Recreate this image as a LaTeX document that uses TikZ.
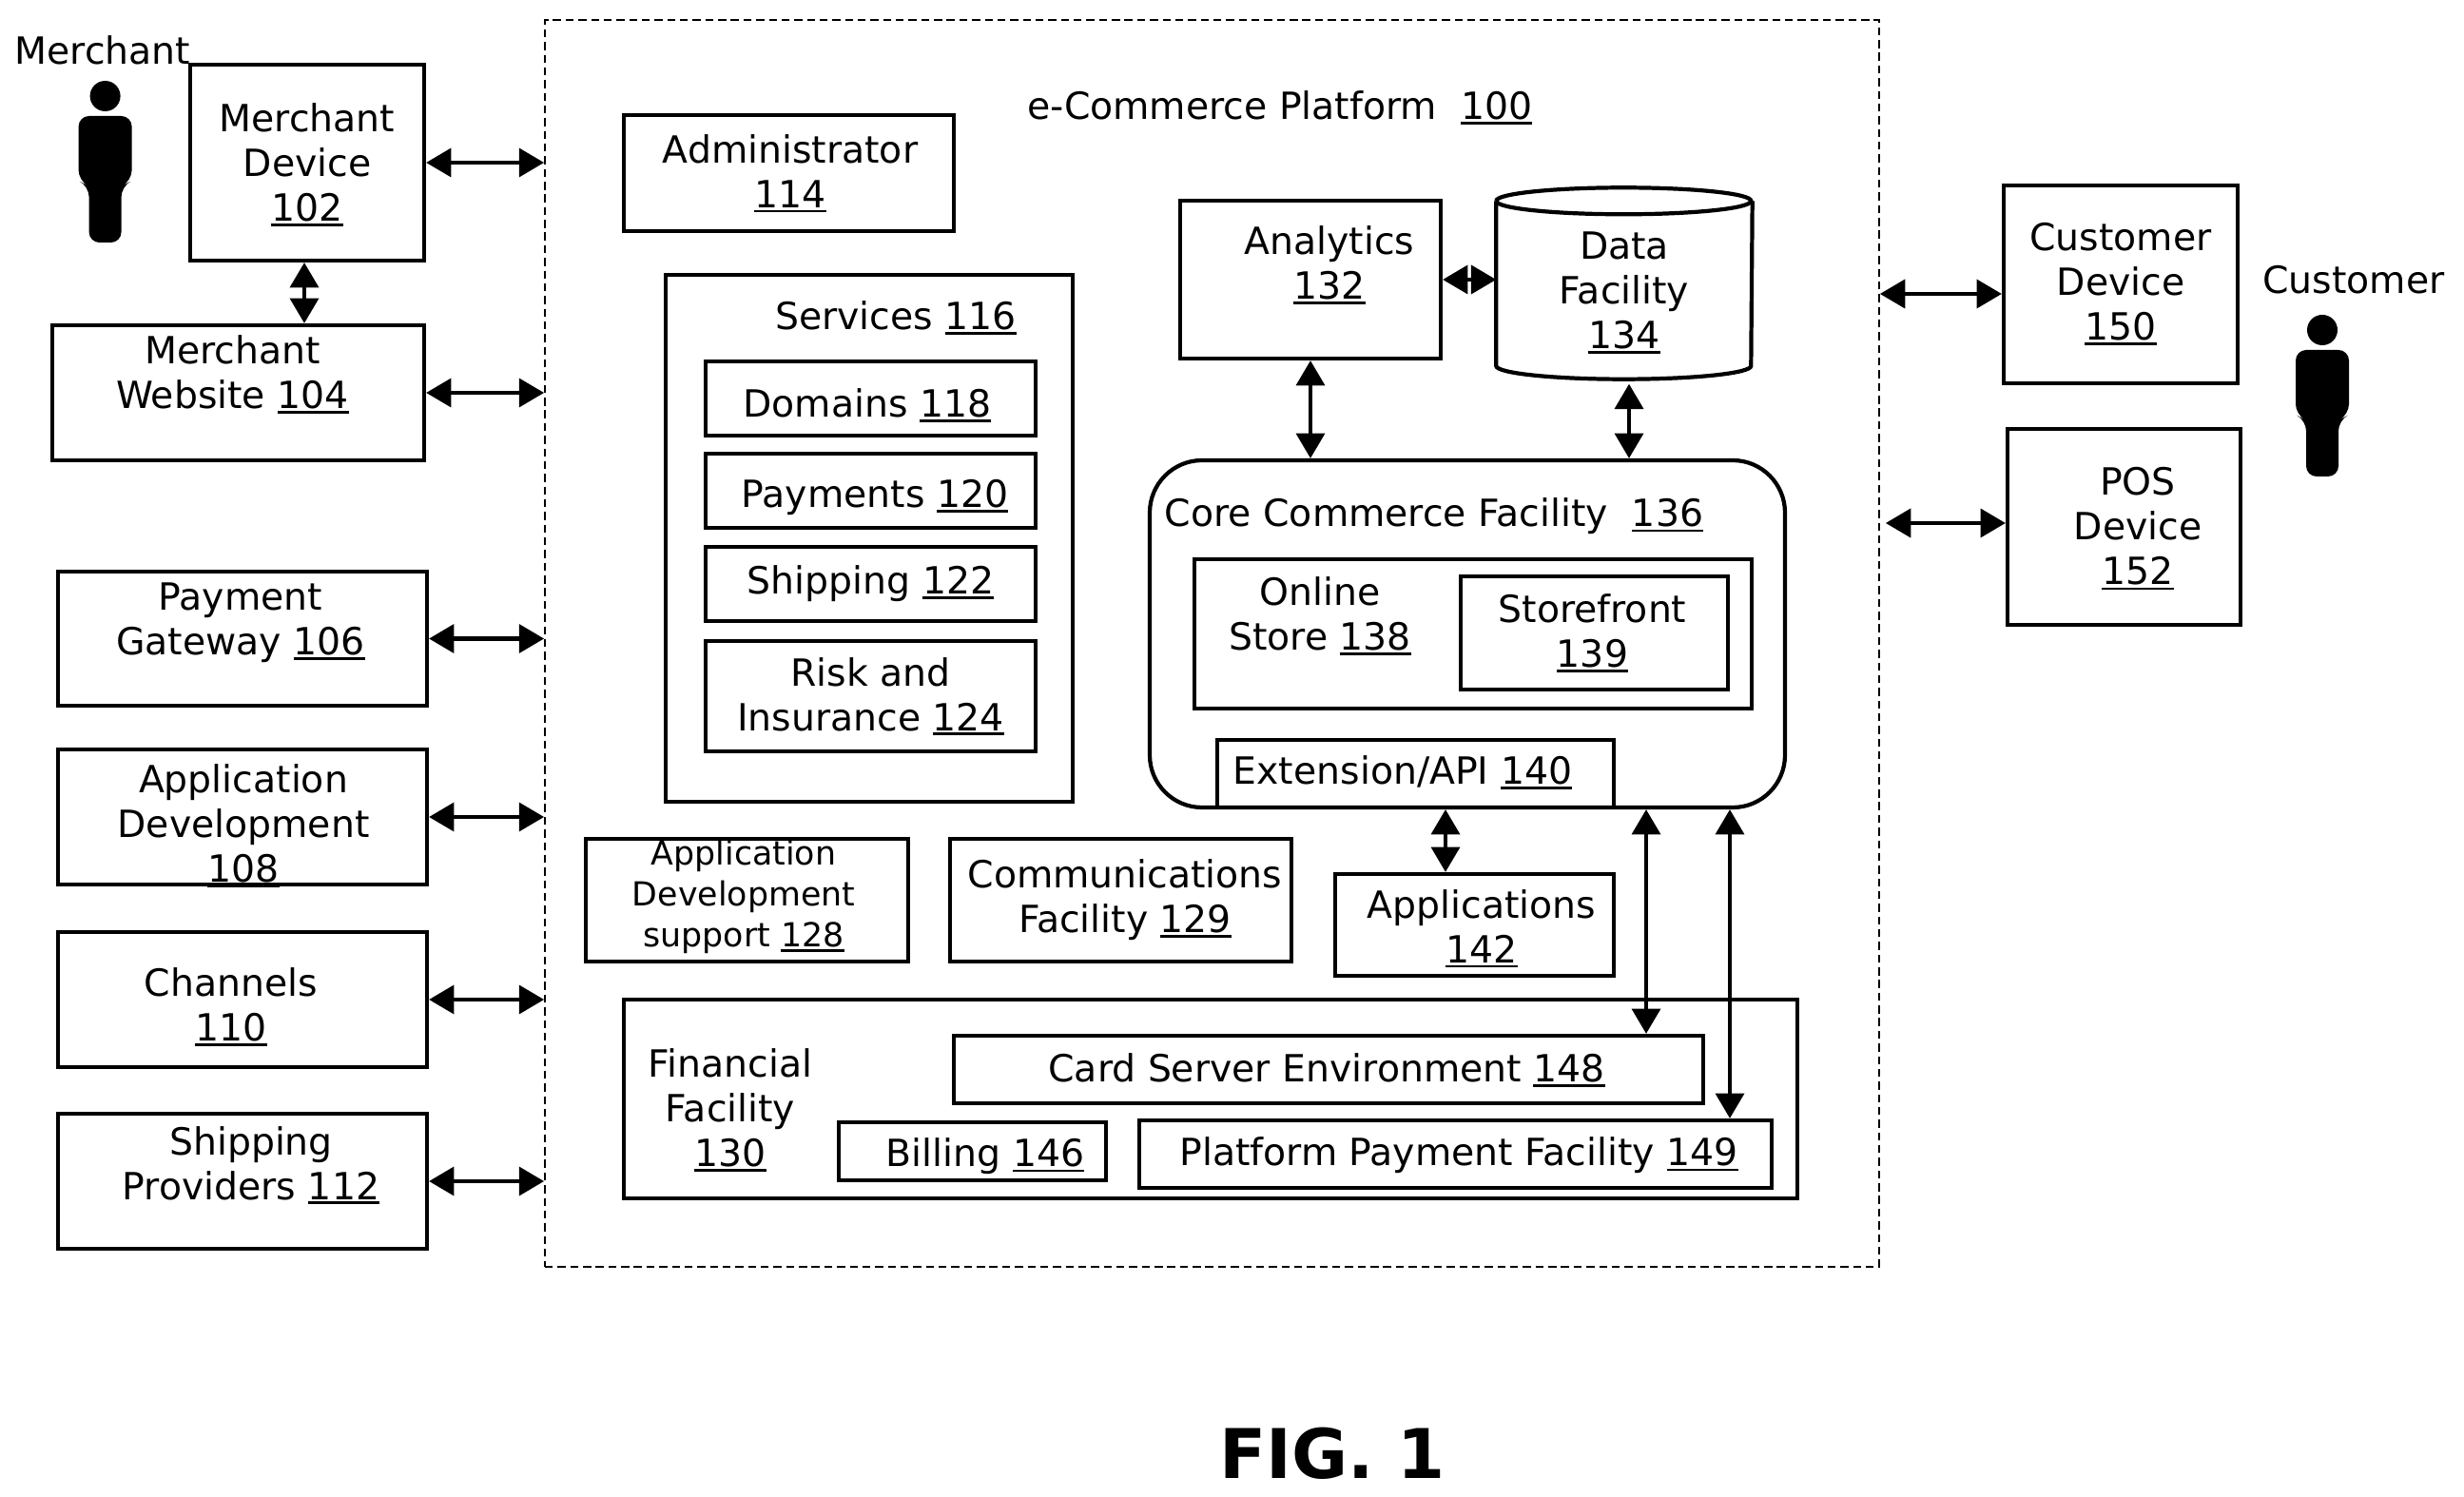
\documentclass[tikz,border=0pt]{standalone}
\usepackage{fontspec}
\setmainfont{DejaVu Sans}
\usetikzlibrary{arrows.meta}
\tikzset{blockbox/.style={rectangle, draw, line width=1.2pt, inner sep=0pt, align=center, font=\blockfont}}
\tikzset{blocktext/.style={inner sep=0pt, align=center, font=\blockfont}}
\tikzset{biarrow/.style={{Triangle[length=7.5pt,width=8.5pt]}-{Triangle[length=7.5pt,width=8.5pt]}, line width=1.2pt}}
\newcommand{\blockfont}{\fontsize{11.2}{13.4}\selectfont}
\newcommand{\refnum}[1]{\vtop{\hbox{#1}\kern.6pt\hrule height .8pt\kern-1.4pt}}
\newcommand{\person}[2]{
\fill[black, shift={(#1,#2)}] (0,0) circle (.16);
\fill[black, shift={(#1,#2)}, rounded corners=.11cm] (-.28,-.21) -- (.28,-.21) -- (.28,-.89) -- (.17,-.95) -- (.17,-1.54) -- (-.17,-1.54) -- (-.17,-.95) -- (-.28,-.89) -- cycle;
}

\begin{document}
\begin{tikzpicture}[
]
\useasboundingbox (0,0) rectangle (25.91,-15.74);

\node [blocktext] (merchant) at (1.08,-.53) {Merchant};
\person{1.106}{-1.01}
\node [blocktext] (customer) at (24.75,-2.94) {Customer};
\person{24.42}{-3.47}

\node [blockbox, minimum width = 2.46cm, minimum height = 2.06cm] (device) at (3.23,-1.71) {Merchant\\Device\\\refnum{102}};
\node [blockbox, minimum width = 3.91cm, minimum height = 1.42cm] (website) at (2.505,-4.13) {};
\node [blocktext] (websiteT) at (2.445,-3.915) {Merchant\\Website \refnum{104}};
\node [blockbox, minimum width = 3.88cm, minimum height = 1.41cm] (gateway) at (2.55,-6.715) {};
\node [blocktext] (gatewayT) at (2.53,-6.55) {Payment\\Gateway \refnum{106}};
\node [blockbox, minimum width = 3.88cm, minimum height = 1.42cm] (appdev) at (2.55,-8.59) {};
\node [blocktext] (appdevT) at (2.56,-8.66) {Application\\Development\\\refnum{108}};
\node [blockbox, minimum width = 3.88cm, minimum height = 1.42cm] (channels) at (2.55,-10.51) {};
\node [blocktext] (channelsT) at (2.43,-10.56) {Channels\\\refnum{110}};
\node [blockbox, minimum width = 3.88cm, minimum height = 1.42cm] (shipprov) at (2.55,-12.42) {};
\node [blocktext] (shipprovT) at (2.64,-12.23) {Shipping\\Providers \refnum{112}};

\node [draw, rectangle, line width=.5pt, dash pattern=on 2.4pt off 1.4pt, minimum width = 14.03cm, minimum height = 13.11cm] (platform) at (12.745,-6.765) {};
\node [blocktext] (platformT) at (13.46,-1.105) {e-Commerce Platform~~\refnum{100}};

\node [blockbox, minimum width = 3.47cm, minimum height = 1.22cm] (admin) at (8.295,-1.82) {};
\node [blocktext] (adminT) at (8.31,-1.80) {Administrator\\\refnum{114}};

\node [blockbox, minimum width = 4.28cm, minimum height = 5.54cm] (services) at (9.14,-5.66) {};
\node [blocktext] (servicesT) at (9.42,-3.32) {Services \refnum{116}};
\node [blockbox, minimum width = 3.47cm, minimum height = .78cm] (domains) at (9.155,-4.19) {};
\node [blocktext] (domainsT) at (9.12,-4.235) {Domains \refnum{118}};
\node [blockbox, minimum width = 3.47cm, minimum height = .78cm] (payments) at (9.155,-5.16) {};
\node [blocktext] (paymentsT) at (9.20,-5.23) {Payments \refnum{120}};
\node [blockbox, minimum width = 3.47cm, minimum height = .78cm] (shipping) at (9.155,-6.14) {Shipping \refnum{122}};
\node [blockbox, minimum width = 3.47cm, minimum height = 1.16cm] (risk) at (9.155,-7.32) {};
\node [blocktext] (riskT) at (9.155,-7.30) {Risk and\\Insurance \refnum{124}};

\node [blockbox, minimum width = 3.39cm, minimum height = 1.29cm] (support) at (7.855,-9.465) {};
\node [blocktext, font=\fontsize{9.9}{12.2}\selectfont] (supportT) at (7.82,-9.43) {Application\\Development\\support \refnum{128}};
\node [blockbox, minimum width = 3.59cm, minimum height = 1.29cm] (comm) at (11.785,-9.465) {};
\node [blocktext] (commT) at (11.83,-9.46) {Communications\\Facility \refnum{129}};
\node [blockbox, minimum width = 2.93cm, minimum height = 1.07cm] (apps) at (15.505,-9.725) {};
\node [blocktext] (appsT) at (15.58,-9.74) {Applications\\\refnum{142}};

\node [blockbox, minimum width = 12.34cm, minimum height = 2.09cm] (financial) at (12.73,-11.555) {};
\node [blocktext] (financialT) at (7.68,-11.65) {Financial\\Facility\\\refnum{130}};
\node [blockbox, minimum width = 7.88cm, minimum height = .71cm] (card) at (13.97,-11.245) {};
\node [blocktext] (cardT) at (13.95,-11.23) {Card Server Environment \refnum{148}};
\node [blockbox, minimum width = 2.81cm, minimum height = .61cm] (billing) at (10.225,-12.105) {};
\node [blocktext] (billingT) at (10.36,-12.16) {Billing \refnum{146}};
\node [blockbox, minimum width = 6.65cm, minimum height = .71cm] (ppf) at (15.305,-12.135) {};
\node [blocktext] (ppfT) at (15.34,-12.15) {Platform Payment Facility \refnum{149}};

\node [blockbox, minimum width = 2.74cm, minimum height = 1.66cm] (analytics) at (13.78,-2.94) {};
\node [blocktext] (analyticsT) at (13.98,-2.76) {Analytics\\\refnum{132}};

\node [rectangle, inner sep=0pt, minimum width = 2.68cm, minimum height = 2cm] (data) at (17.08,-2.98) {};
\draw [line width=1.2pt] ([yshift=-.14cm]data.north west) arc (180:-180:1.34 and .14);
\draw [line width=1.2pt] ([yshift=-.14cm]data.north west) -- ([yshift=.14cm]data.south west) arc (180:360:1.34 and .14) -- ([yshift=-.14cm]data.north east);
\node [blocktext] (dataT) at (17.08,-3.056) {Data\\Facility\\\refnum{134}};

\node [blockbox, rounded corners = .55cm, minimum width = 6.68cm, minimum height = 3.65cm] (core) at (15.43,-6.665) {};
\node [blocktext] (coreT) at (15.08,-5.43) {Core Commerce Facility~~\refnum{136}};
\node [blockbox, minimum width = 5.86cm, minimum height = 1.57cm] (online) at (15.49,-6.665) {};
\node [blocktext] (onlineT) at (13.88,-6.45) {Online\\Store \refnum{138}};
\node [blockbox, minimum width = 2.81cm, minimum height = 1.19cm] (store) at (16.765,-6.655) {};
\node [blocktext] (storeT) at (16.745,-6.63) {Storefront\\\refnum{139}};
\node [blockbox, minimum width = 4.17cm, minimum height = .71cm] (ext) at (14.885,-8.135) {};
\node [blocktext] (extT) at (14.75,-8.11) {Extension/API \refnum{140}};

\node [blockbox, minimum width = 2.46cm, minimum height = 2.08cm] (custdev) at (22.30,-2.99) {};
\node [blocktext] (custdevT) at (22.30,-2.96) {Customer\\Device\\\refnum{150}};
\node [blockbox, minimum width = 2.45cm, minimum height = 2.06cm] (pos) at (22.335,-5.54) {};
\node [blocktext] (posT) at (22.48,-5.535) {POS\\Device\\\refnum{152}};

\node [font=\fontsize{20.5}{24}\selectfont\bfseries, inner sep=0pt] (fig) at (14.01,-15.28) {FIG. 1};

\draw [biarrow] (device.east) -- (device.east -| platform.west);
\draw [biarrow] (website.east) -- (website.east -| platform.west);
\draw [biarrow] (gateway.east) -- (gateway.east -| platform.west);
\draw [biarrow] (appdev.east) -- (appdev.east -| platform.west);
\draw [biarrow] (channels.east) -- (channels.east -| platform.west);
\draw [biarrow] (shipprov.east) -- (shipprov.east -| platform.west);
\draw [biarrow] ([xshift=-.03cm]device.south) -- ([xshift=-.03cm]device.south |- website.north);

\draw [biarrow] (analytics.east) -- (analytics.east -| data.west);
\draw [biarrow] (analytics.south) -- (analytics.south |- core.north);
\draw [biarrow] ([xshift=.05cm, yshift=-.05cm]data.south) -- ([xshift=.05cm]data.south |- core.north);

\draw [biarrow] ([xshift=.315cm]ext.south) -- ([xshift=.315cm]ext.south |- apps.north);
\draw [biarrow] ([xshift=1.88cm]core.south) -- ([xshift=1.88cm]core.south |- card.north);
\draw [biarrow] ([xshift=2.76cm]core.south) -- ([xshift=2.76cm]core.south |- ppf.north);

\draw [biarrow] ([yshift=-.1cm]custdev.west) -- ([yshift=-.1cm]custdev.west -| platform.east);
\draw [biarrow] ([yshift=.04cm]pos.west) -- ([yshift=.04cm, xshift=.06cm]pos.west -| platform.east);

\end{tikzpicture}
\end{document}
